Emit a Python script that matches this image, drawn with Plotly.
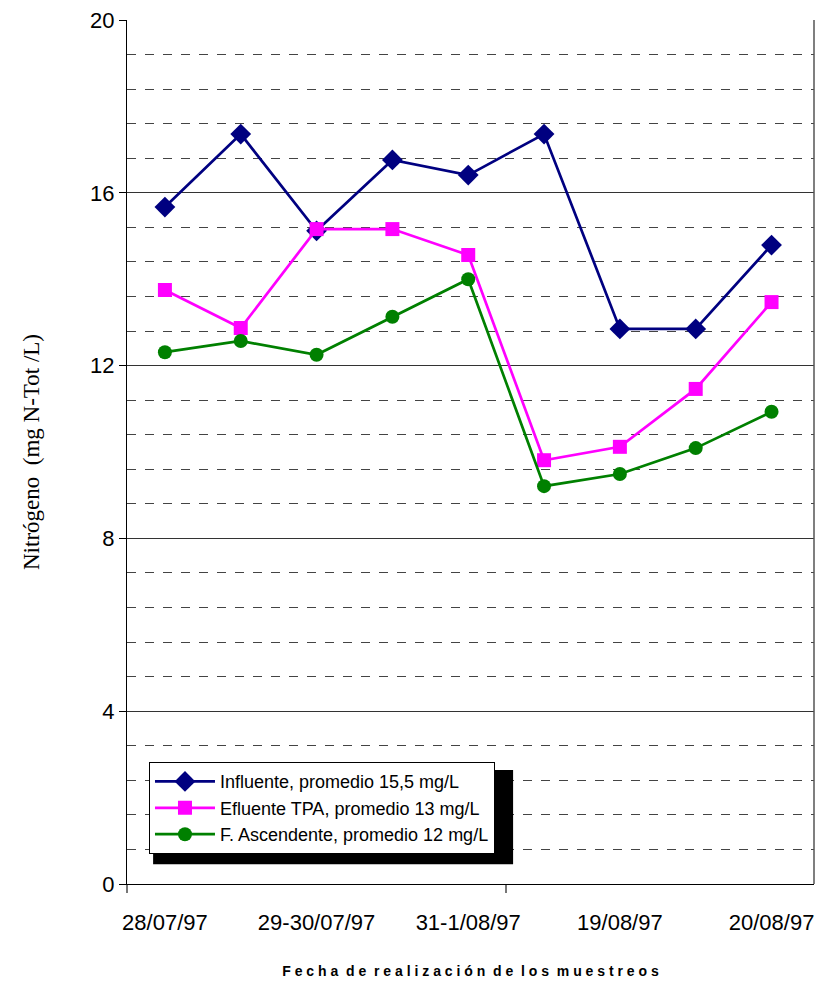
import plotly.graph_objects as go

# muestreos (9 puntos), etiquetas solo en los pares
sample_idx = [0, 1, 2, 3, 4, 5, 6, 7, 8]
tick_pos = [0, 2, 4, 6, 8]
tick_labels = ["28/07/97", "29-30/07/97", "31-1/08/97", "19/08/97", "20/08/97"]

influente = [15.67, 17.36, 15.12, 16.76, 16.41, 17.36, 12.85, 12.85, 14.79]
efluente_tpa = [13.75, 12.87, 15.16, 15.16, 14.56, 9.81, 10.12, 11.46, 13.47]
f_ascendente = [12.31, 12.57, 12.25, 13.13, 14.0, 9.21, 9.49, 10.09, 10.93]

series = [
    ("Influente, promedio 15,5 mg/L", influente, "#000080", "diamond", 16),
    ("Efluente TPA, promedio 13 mg/L", efluente_tpa, "#FF00FF", "square", 14),
    ("F. Ascendente, promedio 12 mg/L", f_ascendente, "#008000", "circle", 14),
]

fig = go.Figure()
for name, vals, color, symbol, size in series:
    fig.add_trace(
        go.Scatter(
            x=sample_idx,
            y=vals,
            mode="lines+markers",
            name=name,
            line=dict(color=color, width=2.7),
            marker=dict(symbol=symbol, size=size, color=color),
        )
    )

# sombra de la leyenda
fig.add_shape(
    type="rect", xref="paper", yref="paper",
    x0=0.038, x1=0.562, y0=0.023, y1=0.132,
    fillcolor="black", line=dict(width=0), layer="above",
)
# borde derecho
fig.add_shape(
    type="line", xref="paper", yref="paper",
    x0=1, x1=1, y0=0, y1=1,
    line=dict(color="#555555", width=1.5),
)

fig.update_xaxes(
    range=[-0.5, 8.56],
    tickmode="array",
    tickvals=tick_pos,
    ticktext=tick_labels,
    ticks="",
    ticklabelstandoff=18,
    tickfont=dict(family="Liberation Sans", size=22, color="black"),
    showgrid=False,
    zeroline=False,
    showline=True,
    linecolor="black",
    linewidth=1.2,
    minor=dict(tickmode="array", tickvals=[-0.5, 4.5], ticks="outside", ticklen=8, tickcolor="#777777", tickwidth=1.5),
    title=dict(
        text="<b>F e c h a  d e  r e a l i z a c i ó n  d e  l o s  m u e s t r e o s</b>",
        font=dict(family="Liberation Sans", size=14, color="black"),
        standoff=32,
    ),
)
fig.update_yaxes(
    range=[0, 20],
    tickmode="array",
    tickvals=[0, 4, 8, 12, 16, 20],
    ticks="outside",
    ticklen=7,
    tickcolor="black",
    tickfont=dict(family="Liberation Sans", size=22, color="black"),
    showgrid=True,
    gridcolor="#333333",
    gridwidth=1,
    zeroline=False,
    showline=True,
    linecolor="black",
    linewidth=1.2,
    minor=dict(dtick=0.8, tick0=0, showgrid=True, gridcolor="#444444", griddash="dash", gridwidth=1),
    title=dict(
        text="Nitrógeno  (mg N-Tot /L)",
        font=dict(family="Liberation Serif", size=23, color="black"),
        standoff=43,
    ),
)

fig.update_layout(
    width=817,
    height=984,
    margin=dict(l=127, r=3, t=20, b=100),
    plot_bgcolor="white",
    paper_bgcolor="white",
    showlegend=True,
    legend=dict(
        x=0.032, y=0.141, xanchor="left", yanchor="top",
        bgcolor="white", bordercolor="black", borderwidth=1,
        font=dict(family="Liberation Sans", size=18, color="black"),
        tracegroupgap=0, itemwidth=60,
    ),
)

fig.write_html(
    "out.html",
    config={"displayModeBar": False},
    post_script="document.body.style.margin='0';",
)
